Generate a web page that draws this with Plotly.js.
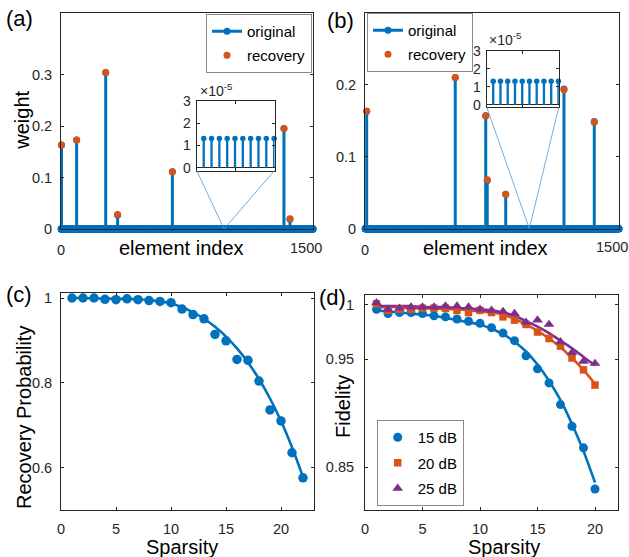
<!DOCTYPE html>
<html><head><meta charset="utf-8">
<script src="https://cdn.plot.ly/plotly-3.0.1.min.js"></script>
<style>html,body{margin:0;padding:0;background:#fff;}#chart{width:629px;height:557px;}</style>
</head><body><div id="chart"></div>
<script>
// ---------------- data ----------------
// panel (a): sparse weight vector (1500 elements), non-zero entries
const lengthA = 1500;
const floorA = 1.3e-5;             // level of the "zero" entries (x1e-5)
const indexA = [3, 93, 266, 337, 663, 1327, 1363];
const originalA = [0.163, 0.173, 0.304, 0.027, 0.111, 0.195, 0.019];
const recoveryA = [0.163, 0.173, 0.304, 0.028, 0.111, 0.195, 0.020];
const insetWindowA = [966, 975];

// panel (b)
const lengthB = 1500;
const floorB = 1.3e-5;
const indexB = [10, 533, 713, 722, 831, 1175, 1354];
const originalB = [0.163, 0.210, 0.157, 0.067, 0.048, 0.194, 0.149];
const recoveryB = [0.163, 0.210, 0.157, 0.068, 0.048, 0.193, 0.148];
const insetWindowB = [966, 975];

// tick labels of the element-index axes
const indexTicks = [0, 1500];
const indexTickText = ['0', '1500'];

// panel (c)
const sparsityC = [1,2,3,4,5,6,7,8,9,10,11,12,13,14,15,16,17,18,19,20,21,22];
const probC = [1.000,1.000,1.000,0.997,0.996,0.998,0.996,0.994,0.992,0.989,0.974,0.961,0.951,0.914,0.899,0.855,0.853,0.804,0.736,0.710,0.635,0.576];
const fitC = [1.000,1.000,0.999,0.999,0.998,0.998,0.997,0.995,0.992,0.987,0.978,0.966,0.951,0.932,0.909,0.881,0.848,0.809,0.763,0.710,0.648,0.578];

// panel (d)
const sparsityD = [1,2,3,4,5,6,7,8,9,10,11,12,13,14,15,16,17,18,19,20];
const fid15 = [0.996,0.992,0.993,0.993,0.992,0.990,0.989,0.987,0.985,0.983,0.979,0.974,0.967,0.953,0.941,0.928,0.908,0.888,0.868,0.830];
const fid20 = [1.001,0.995,0.996,0.996,0.997,0.997,0.997,0.995,0.993,0.995,0.993,0.989,0.986,0.982,0.975,0.969,0.962,0.951,0.940,0.926];
const fid25 = [1.002,0.996,0.997,0.998,0.998,0.998,0.999,0.999,0.998,0.996,0.995,0.994,0.992,0.984,0.986,0.982,0.966,0.956,0.948,0.946];
const fit15 = [0.995,0.994,0.993,0.992,0.991,0.990,0.988,0.986,0.984,0.982,0.978,0.973,0.966,0.957,0.945,0.930,0.912,0.890,0.865,0.836];
const fit20 = [0.998,0.998,0.998,0.997,0.997,0.997,0.996,0.996,0.995,0.994,0.993,0.991,0.987,0.982,0.976,0.969,0.961,0.951,0.940,0.927];
const fit25 = [0.999,0.999,0.999,0.999,0.998,0.998,0.998,0.997,0.997,0.996,0.995,0.993,0.990,0.985,0.980,0.974,0.967,0.960,0.952,0.944];
const seriesNamesD = ['15 dB', '20 dB', '25 dB'];

// ---------------- helpers ----------------
const W = 629, H = 557;
const FONT = 'Liberation Sans, Arial, sans-serif';
const BLUE = '#0072BD', ORANGE = '#D95319', PURPLE = '#7E2F8E', INK = '#262626';

function buildVector(n, floor, idx, vals) {
  const v = new Array(n).fill(floor);
  idx.forEach((i, k) => { v[i - 1] = vals[k]; });
  return v;
}
function stemXY(xs, ys) {
  const X = [], Y = [];
  for (let k = 0; k < xs.length; k++) { X.push(xs[k], xs[k], null); Y.push(0, ys[k], null); }
  return {X, Y};
}
const vecA = buildVector(lengthA, floorA, indexA, originalA);
const vecB = buildVector(lengthB, floorB, indexB, originalB);
const allIdxA = vecA.map((_, i) => i + 1);
const allIdxB = vecB.map((_, i) => i + 1);

// pixel boxes of the axes
const box = {
  a: {x: [61, 313], y: [12.7, 229]},
  b: {x: [365, 619], y: [12.7, 228.7]},
  c: {x: [61, 314], y: [293, 510]},
  d: {x: [365, 618], y: [295, 510]},
  ia: {x: [196.7, 274.5], y: [100.7, 170.5]},
  ib: {x: [486.7, 558.8], y: [50.7, 107]}
};
const dX = b => [b.x[0] / W, b.x[1] / W];
const dY = b => [1 - b.y[1] / H, 1 - b.y[0] / H];

const tickFont = {family: FONT, size: 14.5, color: INK};
function axis(extra) {
  return Object.assign({
    showline: true, mirror: 'ticks', linecolor: INK, linewidth: 1,
    ticks: 'inside', ticklen: 3, tickcolor: INK, tickwidth: 1,
    showgrid: false, zeroline: false, tickfont: tickFont, fixedrange: true
  }, extra);
}

const rangeA = [0, 1500], rangeB = [0, 1500];

// ---------------- traces ----------------
const traces = [];
function stemPanel(vec, allIdx, idx, rec, xa, ya, lg, grp) {
  const s = stemXY(allIdx, vec);
  traces.push({type: 'scatter', mode: 'lines+markers', x: s.X, y: s.Y, xaxis: xa, yaxis: ya,
    name: 'original', legend: lg, legendgroup: grp + 'o',
    line: {color: BLUE, width: 3}, marker: {color: BLUE, size: 7}, cliponaxis: false, hoverinfo: 'skip'});
  traces.push({type: 'scatter', mode: 'markers', x: idx, y: rec, xaxis: xa, yaxis: ya,
    name: 'recovery', legend: lg, legendgroup: grp + 'r',
    marker: {color: ORANGE, size: 7}, cliponaxis: false, hoverinfo: 'skip'});
}
function insetPanel(vec, win, xa, ya) {
  const xs = [], ys = [];
  for (let i = win[0]; i <= win[1]; i++) { xs.push(i); ys.push(vec[i - 1] * 1e5); }
  const s = stemXY(xs, ys);
  traces.push({type: 'scatter', mode: 'lines', x: s.X, y: s.Y, xaxis: xa, yaxis: ya, showlegend: false,
    line: {color: BLUE, width: 2.3}, hoverinfo: 'skip'});
  traces.push({type: 'scatter', mode: 'markers', x: xs, y: ys, xaxis: xa, yaxis: ya, showlegend: false,
    marker: {color: BLUE, size: 5.5}, cliponaxis: false, hoverinfo: 'skip'});
}
stemPanel(vecA, allIdxA, indexA, recoveryA, 'x', 'y', 'legend', 'a');
stemPanel(vecB, allIdxB, indexB, recoveryB, 'x2', 'y2', 'legend2', 'b');
insetPanel(vecA, insetWindowA, 'x5', 'y5');
insetPanel(vecB, insetWindowB, 'x6', 'y6');

// (c)
traces.push({type: 'scatter', mode: 'lines', x: sparsityC, y: fitC, xaxis: 'x3', yaxis: 'y3', showlegend: false,
  line: {color: BLUE, width: 2.6, shape: 'spline', smoothing: 0.8}, hoverinfo: 'skip'});
traces.push({type: 'scatter', mode: 'markers', x: sparsityC, y: probC, xaxis: 'x3', yaxis: 'y3', showlegend: false,
  marker: {color: BLUE, size: 9.5}, cliponaxis: false, hoverinfo: 'skip'});

// (d)
const dSeries = [
  {y: fid15, fit: fit15, color: BLUE, symbol: 'circle', size: 9},
  {y: fid20, fit: fit20, color: ORANGE, symbol: 'square', size: 7.5},
  {y: fid25, fit: fit25, color: PURPLE, symbol: 'triangle-up', size: 9.5}
];
dSeries.forEach((s) => {
  traces.push({type: 'scatter', mode: 'lines', x: sparsityD, y: s.fit, xaxis: 'x4', yaxis: 'y4', showlegend: false,
    line: {color: s.color, width: 2.6, shape: 'spline', smoothing: 0.8}, hoverinfo: 'skip'});
});
dSeries.forEach((s, k) => {
  traces.push({type: 'scatter', mode: 'markers', x: sparsityD, y: s.y, xaxis: 'x4', yaxis: 'y4',
    name: seriesNamesD[k], legend: 'legend3', legendgroup: 'd' + k,
    marker: {color: s.color, size: s.size, symbol: s.symbol}, cliponaxis: false, hoverinfo: 'skip'});
});

// ---------------- annotations ----------------
function ann(text, px, py, size, angle, extra) {
  return Object.assign({text: text, x: px / W, y: 1 - py / H, xref: 'paper', yref: 'paper', showarrow: false,
    xanchor: 'center', yanchor: 'middle', textangle: angle || 0,
    font: {family: FONT, size: size, color: '#000'}}, extra || {});
}
const tickAnn = {font: {family: FONT, size: 14.5, color: INK}};
// the last element-index tick label sits slightly inside the axis end (as in the reference)
function lastIndexLabel(b, range) {
  const px = b.x[0] + (indexTicks[1] - range[0]) / (range[1] - range[0]) * (b.x[1] - b.x[0]) - 7.5;
  return ann(indexTickText[1], px, b.y[1] + 18.5, 14.5, 0, tickAnn);
}
const annotations = [
  ann('(a)', 19, 18.5, 22), ann('(b)', 340, 20, 22), ann('(c)', 19, 294.5, 22), ann('(d)', 332, 297, 22),
  ann('weight', 21.7, 120, 20, -90),
  ann('element index', 181, 248, 20), ann('element index', 485, 248, 20),
  ann('Recovery Probability', 24, 418, 20, -90),
  ann('Sparsity', 181.5, 547, 20), ann('Sparsity', 503.5, 547, 20),
  ann('Fidelity', 343, 407, 20, -90),
  ann('×10<sup>-5</sup>', 198, 90, 14, 0, {xanchor: 'left', font: {family: FONT, size: 14, color: INK}}),
  ann('×10<sup>-5</sup>', 487, 39, 14, 0, {xanchor: 'left', font: {family: FONT, size: 14, color: INK}}),
  lastIndexLabel(box.a, rangeA), lastIndexLabel(box.b, rangeB)
];

// inset connector lines
function insetLines(mainBox, mainRange, insetBox, win) {
  const target = (win[0] + win[1]) / 2;
  const tx = mainBox.x[0] + (target - mainRange[0]) / (mainRange[1] - mainRange[0]) * (mainBox.x[1] - mainBox.x[0]);
  const ty = mainBox.y[1];
  return [[insetBox.x[0], insetBox.y[1]], [insetBox.x[1], insetBox.y[1]]].map(c => ({
    type: 'line', xref: 'paper', yref: 'paper', x0: c[0] / W, y0: 1 - c[1] / H, x1: tx / W, y1: 1 - ty / H,
    line: {color: '#4a9ad4', width: 0.8}
  }));
}
const shapes = insetLines(box.a, rangeA, box.ia, insetWindowA).concat(insetLines(box.b, rangeB, box.ib, insetWindowB));

const legendBase = {
  bgcolor: '#fff', bordercolor: '#8a8a8a', borderwidth: 1, font: {family: FONT, size: 15, color: '#000'},
  xanchor: 'left', yanchor: 'top', traceorder: 'grouped', tracegroupgap: 1.5, itemwidth: 30
};

const layout = {
  width: W, height: H, margin: {l: 0, r: 0, t: 0, b: 0},
  paper_bgcolor: '#fff', plot_bgcolor: 'rgba(255,255,255,0)', font: {family: FONT, color: INK},
  showlegend: true,
  legend: Object.assign({}, legendBase, {x: 206 / W, y: 1 - 14 / H}),
  legend2: Object.assign({}, legendBase, {x: 367 / W, y: 1 - 13 / H}),
  legend3: Object.assign({}, legendBase, {x: 376.7 / W, y: 1 - 420 / H, tracegroupgap: 3}),
  xaxis: axis({anchor: 'y', domain: dX(box.a), range: rangeA, tickmode: 'array', tickvals: [indexTicks[0]], ticktext: [indexTickText[0]], ticklabelstandoff: 8}),
  yaxis: axis({anchor: 'x', domain: dY(box.a), range: [0, 0.42], tickmode: 'array', tickvals: [0, 0.1, 0.2, 0.3], ticktext: ['0', '0.1', '0.2', '0.3'], ticklabelstandoff: 5}),
  xaxis2: axis({anchor: 'y2', domain: dX(box.b), range: rangeB, tickmode: 'array', tickvals: [indexTicks[0]], ticktext: [indexTickText[0]], ticklabelstandoff: 8}),
  yaxis2: axis({anchor: 'x2', domain: dY(box.b), range: [0, 0.3], tickmode: 'array', tickvals: [0, 0.1, 0.2], ticktext: ['0', '0.1', '0.2'], ticklabelstandoff: 5}),
  xaxis3: axis({anchor: 'y3', domain: dX(box.c), range: [0, 23], tickmode: 'array', tickvals: [0, 5, 10, 15, 20], ticklabelstandoff: 6}),
  yaxis3: axis({anchor: 'x3', domain: dY(box.c), range: [0.5, 1.0118], tickmode: 'array', tickvals: [0.6, 0.8, 1], ticktext: ['0.6', '0.8', '1'], ticklabelstandoff: 5}),
  xaxis4: axis({anchor: 'y4', domain: dX(box.d), range: [0, 22], tickmode: 'array', tickvals: [0, 5, 10, 15, 20], ticklabelstandoff: 6}),
  yaxis4: axis({anchor: 'x4', domain: dY(box.d), range: [0.8106, 1.0092], tickmode: 'array', tickvals: [0.85, 0.95, 1], ticktext: ['0.85', '0.95', '1'], ticklabelstandoff: 7}),
  xaxis5: axis({anchor: 'y5', domain: dX(box.ia), range: [insetWindowA[0] - 0.9, insetWindowA[1] + 0.05], tickmode: 'array', tickvals: [(insetWindowA[0] + insetWindowA[1] - 1) / 2], showticklabels: false}),
  yaxis5: axis({anchor: 'x5', domain: dY(box.ia), range: [-0.13, 3], tickmode: 'array', tickvals: [0, 1, 2, 3], ticklabelstandoff: 2, zeroline: true, zerolinecolor: INK, zerolinewidth: 1, tickfont: {family: FONT, size: 14, color: INK}}),
  xaxis6: axis({anchor: 'y6', domain: dX(box.ib), range: [insetWindowB[0] - 0.9, insetWindowB[1] + 0.05], tickmode: 'array', tickvals: [(insetWindowB[0] + insetWindowB[1] - 1) / 2], showticklabels: false}),
  yaxis6: axis({anchor: 'x6', domain: dY(box.ib), range: [-0.13, 3], tickmode: 'array', tickvals: [0, 1, 2, 3], ticklabelstandoff: 2, zeroline: true, zerolinecolor: INK, zerolinewidth: 1, tickfont: {family: FONT, size: 14, color: INK}}),
  annotations: annotations,
  shapes: shapes
};

Plotly.newPlot('chart', traces, layout, {staticPlot: true, displayModeBar: false});
</script>
</body></html>
